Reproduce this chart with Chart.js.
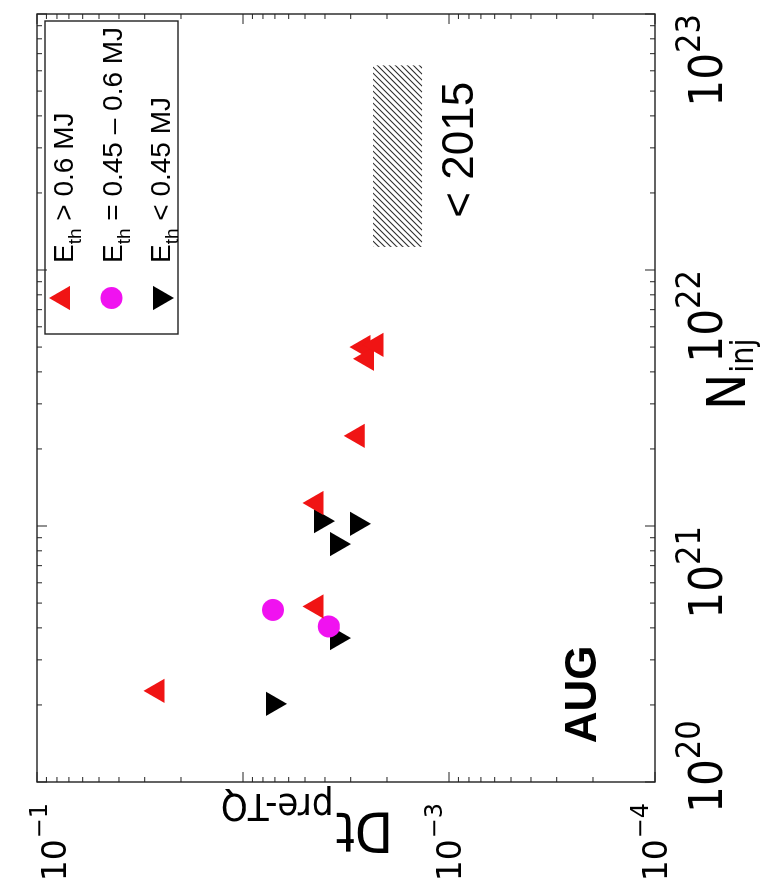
<!DOCTYPE html>
<html>
<head>
<meta charset="utf-8">
<script src="https://cdn.jsdelivr.net/npm/chart.js@4"></script>
<style>
  html, body { margin: 0; padding: 0; background: #fff; overflow: hidden; }
  /* figure is drawn upright, then turned a quarter left like the scan */
  #wrap { position: absolute; left: 0; top: 0; width: 890px; height: 775px;
          transform-origin: 0 0; transform: translate(0, 890px) rotate(-90deg); }
</style>
</head>
<body>
<div id="wrap"><canvas id="c" width="890" height="775"></canvas></div>
<script>
// ─── Data (N_inj, Dt pre-TQ) ─────────────────────────────────────────────
const redN    = [5.0e21, 4.5e21, 5.1e21, 2.25e21, 1.23e21, 4.85e20, 2.27e20];
const redDt   = [2.6e-3, 2.5e-3, 2.25e-3, 2.77e-3, 4.4e-3, 4.4e-3, 2.6e-2];
const magN    = [4.7e20, 4.05e20];
const magDt   = [7.15e-3, 3.83e-3];
const blackN  = [1.045e21, 1.02e21, 8.5e20, 3.65e20, 2.02e20];
const blackDt = [4.18e-3, 2.8e-3, 3.5e-3, 3.5e-3, 7.15e-3];

const legendLabels = [' > 0.6 MJ', ' = 0.45 \u2013 0.6 MJ', ' < 0.45 MJ'];
const xTicks   = [1e20, 1e21, 1e22, 1e23];
const xTickExp = ['20', '21', '22', '23'];
const yTicks   = [1e-1, 1e-3, 1e-4];
const yTickExp = ['\u22121', '\u22123', '\u22124'];
// shaded "< 2015" band
const bandN  = [1.23e22, 6.3e22];
const bandDt = [1.35e-3, 2.34e-3];
const bandLabel = '< 2015';
const bandLabelAt = [2.95e22, 9.1e-4];
const deviceLabel = 'AUG';
const deviceLabelAt = [2.2e20, 2.3e-4];

const RED = '#f01414', MAG = '#f012f0', BLK = '#000000';
const NARROW = '"Liberation Sans Narrow", "DejaVu Sans Condensed", "Liberation Sans", sans-serif';
const SANS = '"Liberation Sans", Arial, sans-serif';
const DJV = '"DejaVu Sans", sans-serif';
const DJVC = '"DejaVu Sans Condensed", "DejaVu Sans", sans-serif';

const pts = (ns, ds) => ns.map((n, i) => ({ x: n, y: ds[i] }));

// ─── Helpers ─────────────────────────────────────────────────────────────
function logSteps(lo, hi) {
  const out = [];
  for (let d = lo; d < hi; d++) for (let m = 1; m < 10; m++) out.push({ v: m * Math.pow(10, d), major: m === 1 });
  out.push({ v: Math.pow(10, hi), major: true });
  return out;
}

const overlay = {
  id: 'overlay',
  beforeDatasetsDraw(chart) {
    const { ctx, scales: { x, y } } = chart;
    const l = x.getPixelForValue(bandN[0]), r = x.getPixelForValue(bandN[1]);
    const t = y.getPixelForValue(bandDt[1]), b = y.getPixelForValue(bandDt[0]);
    const h = b - t;
    ctx.save();
    ctx.beginPath(); ctx.rect(l, t, r - l, h); ctx.clip();
    ctx.strokeStyle = '#2a2a2a'; ctx.lineWidth = 1.1;
    for (let s = l - h; s < r; s += 6) {
      ctx.beginPath(); ctx.moveTo(s, b); ctx.lineTo(s + h, t); ctx.stroke();
    }
    ctx.restore();
  },
  afterDraw(chart) {
    const { ctx, chartArea: a, scales: { x, y } } = chart;
    ctx.save();

    // frame + inward ticks on all four sides
    ctx.strokeStyle = '#222'; ctx.lineWidth = 1.4;
    ctx.strokeRect(a.left, a.top, a.right - a.left, a.bottom - a.top);
    ctx.lineWidth = 1;
    logSteps(20, 23).forEach(s => {
      const px = x.getPixelForValue(s.v), len = s.major ? 10 : 5;
      ctx.beginPath();
      ctx.moveTo(px, a.bottom); ctx.lineTo(px, a.bottom - len);
      ctx.moveTo(px, a.top); ctx.lineTo(px, a.top + len);
      ctx.stroke();
    });
    logSteps(-4, -1).forEach(s => {
      const py = y.getPixelForValue(s.v), len = s.major ? 10 : 5;
      ctx.beginPath();
      ctx.moveTo(a.left, py); ctx.lineTo(a.left + len, py);
      ctx.moveTo(a.right, py); ctx.lineTo(a.right - len, py);
      ctx.stroke();
    });

    ctx.fillStyle = '#000';
    ctx.textBaseline = 'alphabetic'; ctx.textAlign = 'left';

    // x tick labels 10^n
    xTicks.forEach((v, i) => {
      const px = x.getPixelForValue(v);
      ctx.font = '47px ' + NARROW; const wb = ctx.measureText('10').width;
      ctx.font = '34px ' + NARROW; const ws = ctx.measureText(xTickExp[i]).width;
      const left = Math.max(px - wb - ws, a.left - 31);
      ctx.font = '47px ' + NARROW; ctx.fillText('10', left, a.bottom + 67);
      ctx.font = '34px ' + NARROW; ctx.fillText(xTickExp[i], left + wb, a.bottom + 45);
    });

    // y tick labels 10^-n
    yTicks.forEach((v, i) => {
      const py = Math.max(y.getPixelForValue(v), a.top + 17);
      ctx.font = '33px ' + DJV; const wb = ctx.measureText('10').width;
      ctx.font = '24px ' + DJV; const ws = ctx.measureText(yTickExp[i]).width;
      const left = a.left - 22 - wb - ws;
      ctx.font = '33px ' + DJV; ctx.fillText('10', left, py + 12);
      ctx.font = '24px ' + DJV; ctx.fillText(yTickExp[i], left + wb + 1, py - 7);
    });

    // x title N_inj
    ctx.font = '54px ' + NARROW;
    const xt = (a.left + a.right) / 2 - 12;
    ctx.fillText('N', xt, a.bottom + 90);
    const wN = ctx.measureText('N').width;
    ctx.font = '32px ' + NARROW;
    ctx.fillText('inj', xt + wN + 1, a.bottom + 98);

    // y title Dt_pre-TQ (vertical)
    ctx.save();
    ctx.translate(77, y.getPixelForValue(1e-2) + 150);
    ctx.rotate(-Math.PI / 2);
    ctx.font = '55px ' + DJVC;
    ctx.fillText('Dt', 0, 0);
    const wD = ctx.measureText('Dt').width;
    ctx.font = '38px ' + DJVC;
    ctx.fillText('pre-TQ', wD + 2, 19);
    ctx.restore();

    // annotations
    ctx.font = '44px ' + SANS; ctx.textAlign = 'center';
    ctx.fillText(bandLabel, x.getPixelForValue(bandLabelAt[0]), y.getPixelForValue(bandLabelAt[1]) + 16);
    ctx.font = 'bold 44px ' + SANS;
    ctx.fillText(deviceLabel, x.getPixelForValue(deviceLabelAt[0]), y.getPixelForValue(deviceLabelAt[1]) + 16);

    // legend box (top right inside the axes)
    const lx = a.right - 320, ly = a.top + 8, lw = 313, lh = 133;
    ctx.lineWidth = 1.4; ctx.strokeStyle = '#222';
    ctx.strokeRect(lx, ly, lw, lh);
    ctx.textAlign = 'left';
    chart.data.datasets.forEach((ds, i) => {
      const cy = ly + 18 + i * 48.5;
      ctx.fillStyle = ds.backgroundColor; ctx.strokeStyle = ds.borderColor;
      Chart.helpers.drawPoint(ctx, { pointStyle: ds.pointStyle, radius: ds.pointRadius, rotation: ds.rotation || 0, borderWidth: 0 }, lx + 36, cy);
      ctx.fillStyle = '#000';
      ctx.font = '28px ' + SANS; ctx.fillText('E', lx + 71, cy + 10);
      const wE = ctx.measureText('E').width;
      ctx.font = '19px ' + SANS; ctx.fillText('th', lx + 71 + wE, cy + 18);
      const wt = ctx.measureText('th').width;
      ctx.font = '28px ' + SANS; ctx.fillText(legendLabels[i], lx + 71 + wE + wt, cy + 10);
    });
    ctx.restore();
  }
};

new Chart(document.getElementById('c'), {
  type: 'scatter',
  data: {
    datasets: [
      { label: 'red', data: pts(redN, redDt), pointStyle: 'triangle', pointRadius: 14, rotation: 0,
        backgroundColor: RED, borderColor: RED, borderWidth: 0 },
      { label: 'magenta', data: pts(magN, magDt), pointStyle: 'circle', pointRadius: 11,
        backgroundColor: MAG, borderColor: MAG, borderWidth: 0 },
      { label: 'black', data: pts(blackN, blackDt), pointStyle: 'triangle', pointRadius: 14, rotation: 180,
        backgroundColor: BLK, borderColor: BLK, borderWidth: 0 }
    ]
  },
  options: {
    responsive: false, animation: false, devicePixelRatio: 1,
    layout: { padding: { left: 108, right: 8, top: 37, bottom: 120 } },
    plugins: { legend: { display: false }, tooltip: { enabled: false } },
    scales: {
      x: { type: 'logarithmic', min: 1e20, max: 1e23, display: false },
      y: { type: 'logarithmic', min: 1e-4, max: 1e-1, display: false }
    }
  },
  plugins: [overlay]
});
</script>
</body>
</html>
